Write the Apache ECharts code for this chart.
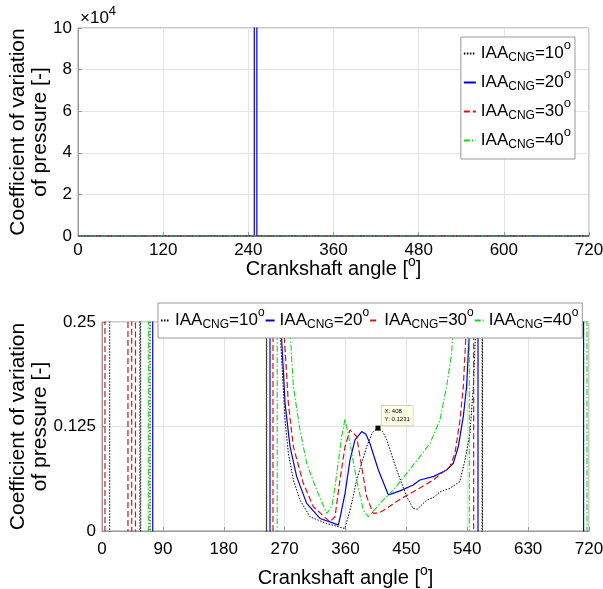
<!DOCTYPE html>
<html><head><meta charset="utf-8">
<script src="https://cdn.jsdelivr.net/npm/echarts@6/dist/echarts.min.js"></script>
<style>html,body{margin:0;padding:0;background:#fff}#c{width:603px;height:589px}</style>
</head><body><div id="c"></div>
<script>
// ---- data (crank angle [deg], coefficient of variation [-]) ----
const seriesNames = ['10', '20', '30', '40'];
const cov10 = [[0,2],[11.4,2],[11.4,-2],[56,-2],[56,2],[58.6,2],[58.6,-2],[71,-2],[71,2],[243,2],[243,-2],[244,-2],[244,2],
  [262,0.4],[264,0.229],[270.6,0.133],[275.5,0.093],[282.9,0.061],[292.7,0.037],[307.5,0.017],[332,0.009],[350,0.005],[359,0.003],
  [366.7,0.025],[371,0.04],[376.5,0.061],[391.3,0.101],[400,0.118],[408,0.1231],[415,0.119],[421,0.109],[435.7,0.073],[450.5,0.041],
  [460,0.027],[466,0.026],[480,0.037],[490,0.040],[500,0.047],[514,0.051],[529,0.059],[536.7,0.085],[544,0.117],[549,0.173],
  [553,0.25],[555,0.4],[562,2],[562,-2],[563,-2],[563,2],[720,2]];
const cov20 = [[0,2],[75,2],[75,-2],[248.4,-2],[248.4,150000],[252,150000],[252,2],[263,0.4],[265.6,0.229],[270.6,0.153],
  [278,0.101],[287.8,0.065],[302.6,0.033],[322.3,0.015],[340,0.010],[349.4,0.007],[353,0.02],[359.3,0.045],[366.7,0.085],
  [374,0.109],[383.9,0.119],[390,0.116],[396,0.105],[408.6,0.073],[423.4,0.043],[430,0.045],[440.6,0.048],[460,0.055],
  [470,0.061],[489.8,0.065],[509.5,0.073],[519.4,0.081],[526.8,0.101],[534.2,0.137],[539,0.173],[544,0.25],[546,0.4],
  [555.9,2],[555.9,-2],[712,-2],[712,2],[720,2]];
const cov30 = [[0,-2],[4.4,-2],[4.4,2],[38.4,2],[38.4,-2],[43.9,-2],[43.9,2],[49.5,2],[49.5,-2],[252.8,-2],[252.8,2],
  [267,0.4],[269,0.24],[275.5,0.153],[282.9,0.101],[297.6,0.057],[312.4,0.029],[337,0.011],[344.5,0.017],[351.8,0.061],
  [359.3,0.101],[366.7,0.121],[369.1,0.123],[376.5,0.113],[383.9,0.077],[391.3,0.041],[401,0.021],[410,0.022],[420.9,0.027],
  [440.6,0.038],[465,0.049],[489.8,0.061],[514.5,0.077],[521.9,0.093],[529.3,0.133],[534.2,0.173],[539,0.25],[541,0.4],
  [549.5,2],[549.5,-2],[720,-2]];
const cov40 = [[0,2],[68.5,2],[68.5,-2],[259,-2],[259,2],[276,0.4],[278,0.24],[282.9,0.173],[292.7,0.121],[302.6,0.081],
  [317.4,0.049],[332.2,0.021],[335,0.024],[337,0.022],[340,0.03],[344.5,0.053],[354.3,0.113],[359.3,0.134],[366.7,0.105],
  [376.5,0.061],[386.3,0.025],[393.7,0.017],[411,0.033],[430.7,0.049],[450.5,0.069],[470,0.089],[485,0.105],[499.7,0.133],
  [509.5,0.173],[517,0.213],[519.4,0.25],[521,0.4],[543,2],[543,-2],[717,-2],[717,2],[720,2]];
const tipPoint = [408, 0.1231];
const topYTicks = {min: 0, max: 100000, interval: 20000};
const topXTicks = {min: 0, max: 720, interval: 120};
const botYTicks = {min: 0, max: 0.25, interval: 0.125};
const botXTicks = {min: 0, max: 720, interval: 90};

// ---- styles ----
const FONT = 'Liberation Sans';
const colors = ['#000000', '#0000dd', '#dd1111', '#11dd11'];
const dashes = [[1.5, 1.5], 'solid', [6, 3], [6, 2, 1.5, 2]];
const widths = [1, 1.2, 1.2, 1.1];
const datasets = [cov10, cov20, cov30, cov40];

const legRich = {
  m: {fontSize: 17, fontFamily: FONT, color: '#000', lineHeight: 26},
  s: {fontSize: 12, fontFamily: FONT, color: '#000', lineHeight: 12, padding: [8, 0, 0, 0]},
  p: {fontSize: 13, fontFamily: FONT, color: '#000', lineHeight: 13, padding: [0, 0, 16, 0]}
};
const legRich2 = {
  m: {fontSize: 17, fontFamily: FONT, color: '#000', lineHeight: 26},
  s: {fontSize: 12, fontFamily: FONT, color: '#000', lineHeight: 12, padding: [8, 0, 0, 0]},
  p: {fontSize: 12, fontFamily: FONT, color: '#000', lineHeight: 12, padding: [0, 0, 15, 0]}
};
const nameRich = {
  m: {fontSize: 20, fontFamily: FONT, color: '#000', lineHeight: 26},
  p: {fontSize: 14, fontFamily: FONT, color: '#000', lineHeight: 14, padding: [0, 0, 14, 0]}
};
const legendFmt = n => '{m|IAA}{s|CNG}{m|=' + n + '}{p|o}';
const xName = '{m|Crankshaft angle [}{p|o}{m|]}';
const yName = 'Coefficient of variation\nof pressure [-]';
const hiddenSymbol = {color: 'rgba(0,0,0,0)', borderColor: 'rgba(0,0,0,0)', borderWidth: 0, opacity: 0};

const axisCommon = {
  axisLine: {show: true, lineStyle: {color: '#999', width: 1}},
  axisTick: {show: true, inside: true, length: 4, lineStyle: {color: '#999'}},
  splitLine: {show: true, lineStyle: {color: '#e4e4e4', width: 1}},
  axisLabel: {color: '#000', fontSize: 17, fontFamily: FONT},
  nameMoveOverlap: false
};

const series = [];
[0, 1].forEach(g => {
  datasets.forEach((d, i) => {
    const s = {
      name: seriesNames[i], type: 'line', xAxisIndex: g, yAxisIndex: g,
      data: d, symbol: 'none', showSymbol: false, clip: true, animation: false,
      lineStyle: {color: colors[i], width: widths[i], type: dashes[i]},
      itemStyle: {color: colors[i]}
    };
    if (g === 1 && i === 0) {
      s.markPoint = {
        symbol: 'rect', symbolSize: 5, animation: false,
        itemStyle: {color: '#000'},
        label: {
          show: true, position: [6, -20], fontSize: 6, fontFamily: FONT, color: '#000', lineHeight: 8,
          backgroundColor: '#ffffe6', borderColor: '#aaa', borderWidth: 0.5, padding: [2, 3],
          formatter: () => 'X: ' + tipPoint[0] + '\nY: ' + tipPoint[1]
        },
        data: [{coord: tipPoint}]
      };
    }
    series.push(s);
  });
});

const option = {
  animation: false,
  backgroundColor: '#fff',
  grid: [
    {left: 78, right: 14, top: 28, height: 208, show: true, borderColor: '#999', borderWidth: 1, outerBoundsMode: 'none', containLabel: false},
    {left: 102, right: 14, top: 322, height: 209, show: true, borderColor: '#999', borderWidth: 1, outerBoundsMode: 'none', containLabel: false}
  ],
  xAxis: [
    Object.assign({}, axisCommon, {type: 'value', gridIndex: 0, min: topXTicks.min, max: topXTicks.max, interval: topXTicks.interval,
      axisLabel: Object.assign({}, axisCommon.axisLabel, {margin: 6}),
      name: xName, nameLocation: 'middle', nameGap: 20, nameTextStyle: {rich: nameRich}}),
    Object.assign({}, axisCommon, {type: 'value', gridIndex: 1, min: botXTicks.min, max: botXTicks.max, interval: botXTicks.interval,
      axisLabel: Object.assign({}, axisCommon.axisLabel, {margin: 10}),
      name: xName, nameLocation: 'middle', nameGap: 34, nameTextStyle: {rich: nameRich}})
  ],
  yAxis: [
    Object.assign({}, axisCommon, {type: 'value', gridIndex: 0, min: topYTicks.min, max: topYTicks.max, interval: topYTicks.interval,
      axisLabel: Object.assign({}, axisCommon.axisLabel, {margin: 6, formatter: v => String(v / 10000)}),
      name: yName, nameLocation: 'middle', nameRotate: 90, nameGap: 27,
      nameTextStyle: {fontSize: 21, fontFamily: FONT, color: '#000', lineHeight: 22}}),
    Object.assign({}, axisCommon, {type: 'value', gridIndex: 1, min: botYTicks.min, max: botYTicks.max, interval: botYTicks.interval,
      axisLabel: Object.assign({}, axisCommon.axisLabel, {margin: 6}),
      name: yName, nameLocation: 'middle', nameRotate: 90, nameGap: 51,
      nameTextStyle: {fontSize: 21, fontFamily: FONT, color: '#000', lineHeight: 22}})
  ],
  legend: [
    {orient: 'vertical', right: 28, top: 37, itemWidth: 12, itemHeight: 10, itemGap: 0,
     padding: [2, 4, 4, 2], backgroundColor: '#fff', borderColor: '#999', borderWidth: 1,
     itemStyle: hiddenSymbol,
     data: seriesNames, formatter: legendFmt, textStyle: {rich: legRich}},
    {orient: 'horizontal', left: 158, top: 303, itemWidth: 9, itemHeight: 10, itemGap: 0,
     padding: [4, 4, 4, 2], backgroundColor: '#fff', borderColor: '#999', borderWidth: 1,
     itemStyle: hiddenSymbol,
     data: seriesNames, formatter: legendFmt, textStyle: {rich: legRich2}}
  ],
  graphic: [
    {type: 'text', left: 80, top: 5,
     style: {text: '{m|×10}{p|4}', rich: {
       m: {fontSize: 17, fontFamily: FONT, fill: '#000', lineHeight: 24},
       p: {fontSize: 13, fontFamily: FONT, fill: '#000', lineHeight: 13, padding: [0, 0, 14, 0]}}}}
  ],
  series: series
};
const chart = echarts.init(document.getElementById('c'));
chart.setOption(option);
</script>
</body></html>
